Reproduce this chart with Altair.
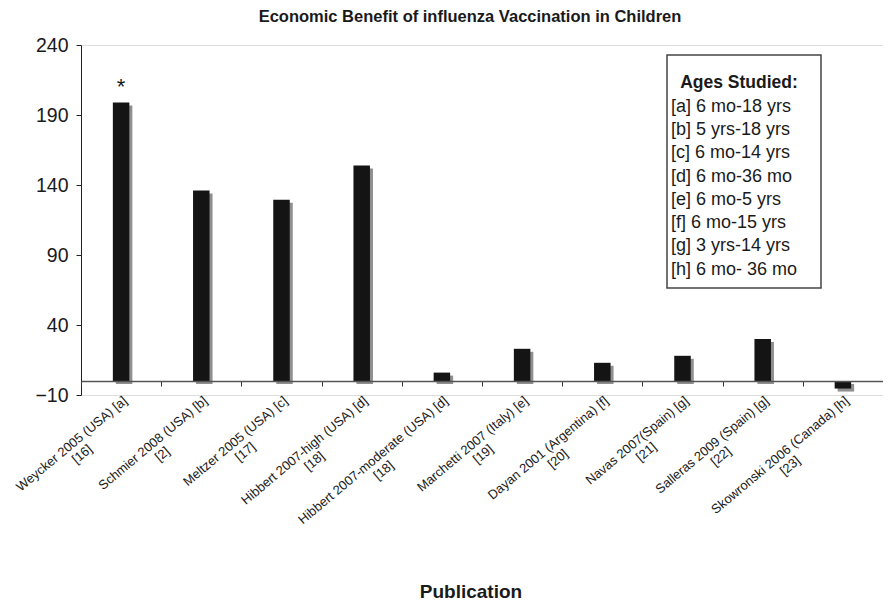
import altair as alt
import pandas as pd

# ---- data ----
studies = [
    "Weycker 2005 (USA) [a]",
    "Schmier 2008 (USA) [b]",
    "Meltzer 2005 (USA) [c]",
    "Hibbert 2007-high (USA) [d]",
    "Hibbert 2007-moderate (USA) [d]",
    "Marchetti 2007 (Italy) [e]",
    "Dayan 2001 (Argentina) [f]",
    "Navas 2007(Spain) [g]",
    "Salleras 2009 (Spain) [g]",
    "Skowronski 2006 (Canada) [h]",
]
refs = ["[16]", "[2]", "[17]", "[18]", "[18]", "[19]", "[20]", "[21]", "[22]", "[23]"]
benefit = [199, 136, 129.5, 154, 6, 23, 13, 18, 30, -5.4]
y_ticks = [-10, 40, 90, 140, 190, 240]
legend_title = "Ages Studied:"
legend_lines = [
    "[a] 6 mo-18 yrs",
    "[b] 5 yrs-18 yrs",
    "[c] 6 mo-14 yrs",
    "[d] 6 mo-36 mo",
    "[e] 6 mo-5 yrs",
    "[f] 6 mo-15 yrs",
    "[g] 3 yrs-14 yrs",
    "[h] 6 mo- 36 mo",
]
chart_title = "Economic Benefit of influenza Vaccination in Children"
x_title = "Publication"
star_note = "*"

# ---- approximate Arial widths, to centre the second label line ----
W = {' ': 278, '(': 333, ')': 333, '[': 278, ']': 278, '-': 333}
for ch in "0123456789":
    W[ch] = 556
W.update(dict(a=556, b=556, c=500, d=556, e=556, f=278, g=556, h=556, i=222, j=222,
              k=500, l=222, m=833, n=556, o=556, p=556, q=556, r=333, s=500, t=278,
              u=556, v=500, w=722, x=500, y=500, z=500, A=667, B=667, C=722, D=722,
              E=667, F=611, G=778, H=722, I=278, S=667, U=722, W=944))


def width(s):
    return sum(W.get(ch, 556) for ch in s)


cats = []
for s, r in zip(studies, refs):
    pad = round((width(s) - width(r)) / 2 / 278)
    # trailing zero-width space keeps the no-break spaces from being trimmed
    cats.append(s + "|" + r + "\u00a0" * max(pad, 0) + "\u200b")

df = pd.DataFrame({"cat": cats, "v": benefit})
star_df = pd.DataFrame({"cat": [cats[0]], "v": [benefit[0]], "t": [star_note]})

FONT = "Liberation Sans"
TXT = "#1a1a1a"
PLOT_LEFT, PLOT_TOP = 81, 45  # page coordinates of plot origin

x_axis = alt.Axis(
    title=None, labelAngle=-40, labelAlign="right", labelBaseline="top",
    labelFontSize=13, labelFont=FONT, labelColor=TXT, labelLineHeight=14.5,
    labelExpr="split(datum.label, '|')", labelPadding=8, labelOverlap=False,
    labelLimit=400, tickBand="extent", tickSize=5, tickColor="#333",
    domainColor="#555", domainWidth=1.5, offset=-14, zindex=1,
)
x_enc = alt.X("cat:N", sort=cats, axis=x_axis,
              scale=alt.Scale(paddingInner=0, paddingOuter=0))
y_enc = alt.Y("v:Q", scale=alt.Scale(domain=[-10, 240], nice=False, zero=False),
              axis=alt.Axis(values=y_ticks, title=None, grid=False, tickSize=5,
                            labelPadding=8, labelFontSize=19.5, labelFont=FONT,
                            labelColor=TXT, domainColor="#222", tickColor="#222"))

shadow = alt.Chart(df).mark_bar(size=16.5, color="#8f8f8f", xOffset=3, yOffset=3).encode(
    x=x_enc, y=y_enc)
bars = alt.Chart(df).mark_bar(size=16.5, color="#141414").encode(x=x_enc, y=y_enc)
star = alt.Chart(star_df).mark_text(fontSize=22, font=FONT, color=TXT, dy=-8,
                                    baseline="alphabetic").encode(
    x=x_enc, y=y_enc, text="t:N")

title_txt = alt.Chart(pd.DataFrame({"t": [chart_title]})).mark_text(
    fontSize=16.5, fontWeight="bold", font=FONT, color=TXT, align="center",
    baseline="alphabetic").encode(
    x=alt.value(470 - PLOT_LEFT), y=alt.value(22 - PLOT_TOP), text="t:N")
xtitle_txt = alt.Chart(pd.DataFrame({"t": [x_title]})).mark_text(
    fontSize=19, fontWeight="bold", font=FONT, color=TXT, align="center",
    baseline="alphabetic").encode(
    x=alt.value(471 - PLOT_LEFT), y=alt.value(598 - PLOT_TOP), text="t:N")

box = alt.Chart(pd.DataFrame({"a": [0]})).mark_rect(
    fill="white", stroke="#444", strokeWidth=1.5).encode(
    x=alt.value(667 - PLOT_LEFT), x2=alt.value(821 - PLOT_LEFT),
    y=alt.value(55 - PLOT_TOP), y2=alt.value(288 - PLOT_TOP))
leg_title = alt.Chart(pd.DataFrame({"a": [0]})).mark_text(
    fontSize=17.5, fontWeight="bold", font=FONT, color=TXT, align="center",
    baseline="alphabetic").encode(
    x=alt.value(739 - PLOT_LEFT), y=alt.value(88 - PLOT_TOP), text=alt.value(legend_title))
leg_text = alt.Chart(pd.DataFrame({"a": [0]})).mark_text(
    fontSize=18, font=FONT, color=TXT, align="left", baseline="alphabetic",
    lineHeight=23.3).encode(
    x=alt.value(671 - PLOT_LEFT), y=alt.value(111.7 - PLOT_TOP), text=alt.value(legend_lines))

chart = alt.layer(shadow, bars, star, box, leg_title, leg_text, title_txt, xtitle_txt).properties(
    width=802, height=350,
    autosize=alt.AutoSizeParams(type="none"),
    padding={"left": 73, "top": 37, "right": 0, "bottom": 207},
).configure_view(stroke=None).configure(background="white")

chart.save("out.html", embed_options={"renderer": "svg", "actions": False})
